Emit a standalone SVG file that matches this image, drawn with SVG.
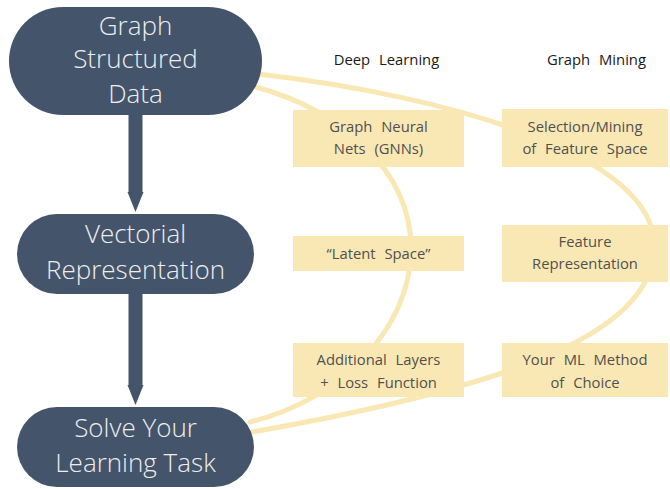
<svg xmlns="http://www.w3.org/2000/svg" width="670" height="489" viewBox="0 0 670 489">
  <style>
    .pill { fill: #44546a; }
    .pill-text { font-family: "Open Sans", "Noto Sans", sans-serif; font-weight: 300; font-size: 26px; fill: #eeeeee; text-anchor: middle; }
    .box { fill: #fae8b4; }
    .box-text { font-family: "Open Sans", "Noto Sans", sans-serif; font-weight: 400; font-size: 14.8px; fill: #505050; text-anchor: middle; word-spacing: 5px; }
    .header { font-family: "Open Sans", "Noto Sans", sans-serif; font-weight: 400; font-size: 14.8px; fill: #1a1a1a; text-anchor: middle; word-spacing: 5px; }
    .flow { fill: none; stroke: #fae8b4; stroke-width: 5; stroke-linecap: round; }
    .arrow { fill: #44546a; }
  </style>

  <!-- column headers -->
  <text class="header" x="386.5" y="65">Deep Learning</text>
  <text class="header" x="596.5" y="65">Graph Mining</text>

  <!-- connectors: flow curves and the vertical arrows -->
  <g id="connectors">
    <path class="flow" d="M 256 87 C 340 110, 412 170, 411 250 C 410 330, 340 400, 250 422"/>
    <path class="flow" d="M 258 74 C 450 96, 654 155, 654 245 C 656 330, 520 385, 252 432"/>
    <path class="arrow" d="M 128.5 115 L 142.5 115 L 142.5 192 L 143.5 192 L 135.5 212 L 127.5 192 L 128.5 192 Z"/>
    <path class="arrow" d="M 128.5 294 L 142.5 294 L 142.5 385 L 143.5 385 L 135.5 405 L 127.5 385 L 128.5 385 Z"/>
  </g>

  <!-- main pipeline -->
  <g id="graph-data">
    <rect class="pill" x="9" y="7" width="253" height="108" rx="54" ry="54"/>
    <text class="pill-text" x="135.5" y="35">Graph</text>
    <text class="pill-text" x="135.5" y="68">Structured</text>
    <text class="pill-text" x="135.5" y="103">Data</text>
  </g>
  <g id="vectorial">
    <rect class="pill" x="17" y="214" width="237" height="80" rx="40" ry="40"/>
    <text class="pill-text" x="135.5" y="243">Vectorial</text>
    <text class="pill-text" x="135.5" y="279">Representation</text>
  </g>
  <g id="solve-task">
    <rect class="pill" x="17" y="407" width="237" height="80" rx="40" ry="40"/>
    <text class="pill-text" x="135.5" y="437">Solve Your</text>
    <text class="pill-text" x="135.5" y="472">Learning Task</text>
  </g>

  <!-- deep learning column -->
  <g id="gnn">
    <rect class="box" x="293" y="110" width="171" height="57"/>
    <text class="box-text" x="378.5" y="132">Graph Neural</text>
    <text class="box-text" x="378.5" y="154">Nets (GNNs)</text>
  </g>
  <g id="latent">
    <rect class="box" x="293" y="236" width="171" height="35"/>
    <text class="box-text" x="378.5" y="259">“Latent Space”</text>
  </g>
  <g id="additional">
    <rect class="box" x="293" y="343" width="171" height="54"/>
    <text class="box-text" x="378.5" y="365">Additional Layers</text>
    <text class="box-text" x="378.5" y="388">+ Loss Function</text>
  </g>

  <!-- graph mining column -->
  <g id="selection">
    <rect class="box" x="502" y="109" width="166" height="58"/>
    <text class="box-text" x="585" y="132">Selection/Mining</text>
    <text class="box-text" x="585" y="154">of Feature Space</text>
  </g>
  <g id="feature">
    <rect class="box" x="502" y="225" width="166" height="57"/>
    <text class="box-text" x="585" y="247">Feature</text>
    <text class="box-text" x="585" y="269">Representation</text>
  </g>
  <g id="ml-method">
    <rect class="box" x="502" y="343" width="166" height="54"/>
    <text class="box-text" x="585" y="365">Your ML Method</text>
    <text class="box-text" x="585" y="388">of Choice</text>
  </g>
</svg>
